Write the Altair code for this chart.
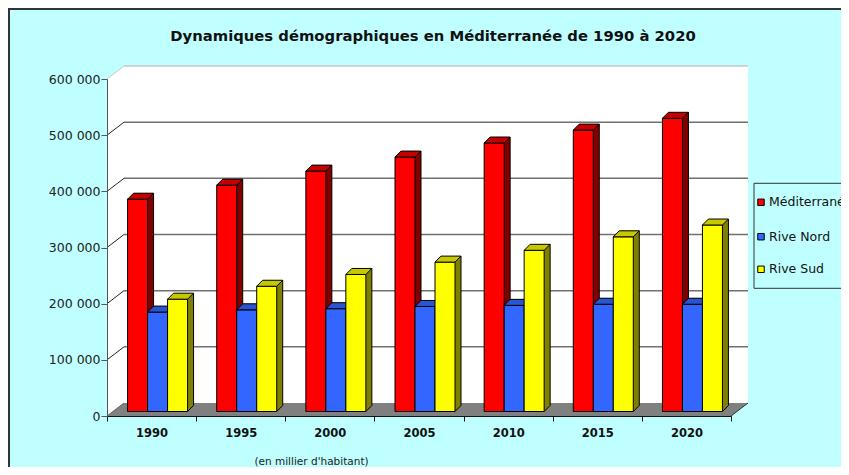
import altair as alt
import pandas as pd

# ---------------- data ----------------
years = ["1990", "1995", "2000", "2005", "2010", "2015", "2020"]
series = ["Méditerranée", "Rive Nord", "Rive Sud"]
mediterranee = [378000, 403000, 428000, 453000, 478000, 501000, 522000]
rive_nord = [177000, 181000, 183000, 187000, 189000, 191000, 191000]
rive_sud = [200000, 223000, 244000, 266000, 287000, 311000, 332000]
y_ticks = [0, 100000, 200000, 300000, 400000, 500000, 600000]

chart_title = "Dynamiques démographiques en Méditerranée de 1990 à 2020"
x_title = "(en millier d'habitant)"

# ---------------- styles ----------------
front_colors = ["#FF0000", "#3366FF", "#FFFF00"]
top_colors = ["#C40000", "#2A55D0", "#C8C800"]
side_colors = ["#800000", "#1A3A99", "#808000"]
bar_shift = [-14, 6, 26]        # pixel dodge of each series inside a year band

W, H = 624, 337                 # front plane of the plot
DX, DY = 17, 13                 # 3D depth of walls
BD = 6                          # 3D depth of bars
FY = -4.5                       # bars sit slightly behind the front plane
BG = "#C0FFFF"
FONT = "DejaVu Sans"
PAD = {"left": 99, "top": 71, "right": 110, "bottom": 51}

values_by_series = [mediterranee, rive_nord, rive_sud]
df = pd.DataFrame(
    [{"year": y, "series": s, "value": v}
     for s, vals in zip(series, values_by_series)
     for y, v in zip(years, vals)]
)
one = pd.DataFrame({"k": [0]})

x_scale = alt.Scale(domain=years, paddingInner=0, paddingOuter=0)
y_scale = alt.Scale(domain=[0, 600000])

X_AX = alt.Axis(
    labelAngle=0, labelFont=FONT, labelFontSize=11.5, labelFontWeight="bold",
    labelColor="#111", labelPadding=6, tickSize=5, tickBand="extent",
    tickColor="#111", domainColor="#111", domainWidth=1, grid=False,
    title=x_title, titleFont=FONT, titleFontSize=10.5, titleFontWeight="normal",
    titleColor="#222", titleX=204, titleY=45, titleAlign="center",
    titleBaseline="middle", zindex=1,
)
Y_AX = alt.Axis(
    values=y_ticks, labelExpr="datum.value == 0 ? '0' : format(datum.value / 1000, 'd') + ' 000'",
    labelFont=FONT, labelFontSize=12.5, labelColor="#222", labelPadding=1,
    tickSize=6, tickColor="#555", domainColor="#555", grid=False, title=None,
    zindex=1,
)


def X():
    return alt.X("year:N", scale=x_scale, axis=X_AX)


def Y(field):
    return alt.Y(field, scale=y_scale, axis=Y_AX)


def shape_layer(path, fill=None, stroke=None, sw=1):
    kw = dict(shape=path, size=4, opacity=1)
    if fill:
        kw.update(filled=True, fill=fill)
    else:
        kw.update(filled=False)
    if stroke:
        kw.update(stroke=stroke, strokeWidth=sw)
    else:
        kw.update(strokeWidth=0)
    return alt.Chart(one).mark_point(**kw).encode(x=alt.value(0), y=alt.value(0))


layers = []

# outer frame (top and left dark border)
layers.append(shape_layer(f"M-98,{H + PAD['bottom']} L-98,-70 L{W + PAD['right']},-70",
                          stroke="#333", sw=2))

# white walls (left + back) and grey floor
layers.append(shape_layer(
    f"M0,0 L{DX},{-DY} L{W + DX},{-DY} L{W + DX},{H - DY} L{DX},{H - DY} L0,{H} Z",
    fill="white"))
layers.append(shape_layer(f"M0,{H} L{DX},{H - DY} L{W + DX},{H - DY} L{W},{H} Z",
                          fill="#808080"))
layers.append(shape_layer(f"M0,{H} L{DX},{H - DY}", stroke="#666", sw=1))
layers.append(shape_layer(f"M{W},{H} L{W + DX},{H - DY}", stroke="#333", sw=1))

# grid: back-wall lines and left-wall diagonals
inner = pd.DataFrame({"tick": y_ticks[1:-1]})
top = pd.DataFrame({"tick": y_ticks[-1:]})
for d, gcol, dcol in [(inner, "#707070", "#222"), (top, "#C8C8C8", "#C8C8C8")]:
    layers.append(alt.Chart(d).mark_rule(color=gcol, strokeWidth=1.5, yOffset=-DY).encode(
        x=alt.value(DX), x2=alt.value(W + DX), y=Y("tick:Q")))
    layers.append(alt.Chart(d).mark_rule(color=dcol, strokeWidth=1, y2Offset=-DY).encode(
        x=alt.value(0), x2=alt.value(DX), y=Y("tick:Q"), y2=alt.Y2("tick")))

# bars (3D look)
color_scale = alt.Scale(domain=series, range=front_colors)
for i, s in enumerate(series):
    d = df[df["series"] == s]
    off = bar_shift[i]
    # side face
    layers.append(alt.Chart(d).mark_bar(
        width=20, xOffset=off + BD, yOffset=FY - BD, y2Offset=FY - BD,
        color=side_colors[i], strokeWidth=0).encode(x=X(), y=Y("value:Q")))
    layers.append(alt.Chart(d).mark_point(
        shape=f"M10,0 L10,{-BD} L{10 + BD},{-BD} Z", size=4, filled=True,
        fill=side_colors[i], strokeWidth=0, opacity=1, xOffset=off, yOffset=FY
    ).encode(x=X(), y=alt.datum(0)))
    layers.append(alt.Chart(d).mark_rule(
        color="#000", strokeWidth=1, xOffset=off + 10 + BD,
        yOffset=FY - BD, y2Offset=FY - BD).encode(x=X(), y=Y("value:Q"), y2=alt.datum(0)))
    layers.append(alt.Chart(d).mark_point(
        shape=f"M10,0 L{10 + BD},{-BD}", size=4, filled=False,
        stroke="#000", strokeWidth=1, opacity=1, xOffset=off, yOffset=FY
    ).encode(x=X(), y=alt.datum(0)))
    # front face
    layers.append(alt.Chart(d).mark_bar(
        width=20, xOffset=off, yOffset=FY, y2Offset=FY,
        stroke="#000", strokeWidth=1).encode(
        x=X(), y=Y("value:Q"),
        color=alt.Color("series:N", scale=color_scale, legend=None)))
    # top face
    layers.append(alt.Chart(d).mark_point(
        shape=f"M-10,0 L10,0 L{10 + BD},{-BD} L{-10 + BD},{-BD} Z", size=4,
        filled=True, fill=top_colors[i], stroke="#000", strokeWidth=1,
        opacity=1, xOffset=off, yOffset=FY).encode(x=X(), y=Y("value:Q")))

# legend (manual, runs off the right edge like the original)
LX, LY1, LY2 = 647, 104.3, 209.3
layers.append(alt.Chart(one).mark_rect(fill=BG, stroke="#333", strokeWidth=1).encode(
    x=alt.value(LX), x2=alt.value(W + PAD["right"] + 20),
    y=alt.value(LY1), y2=alt.value(LY2)))
legend_rows = [123.3, 157.7, 190.3]
for i, s in enumerate(series):
    layers.append(alt.Chart(one).mark_square(
        size=42, filled=True, fill=front_colors[i], stroke="#000", strokeWidth=1,
        opacity=1).encode(x=alt.value(LX + 7), y=alt.value(legend_rows[i])))
    layers.append(alt.Chart(one).mark_text(
        text=s, align="left", baseline="middle", font=FONT, fontSize=12.5,
        color="#111").encode(x=alt.value(LX + 15), y=alt.value(legend_rows[i])))

chart = alt.layer(*layers).properties(
    width=W, height=H,
    autosize=alt.AutoSizeParams(type="none"),
    padding=PAD,
    background=BG,
    title=alt.TitleParams(chart_title, font=FONT, fontSize=14.8, fontWeight="bold",
                          color="#111", anchor="middle", frame="group", dx=14,
                          offset=-38.5),
).configure_view(stroke=None)

chart.save("out.html", embed_options={"renderer": "svg", "actions": False})
